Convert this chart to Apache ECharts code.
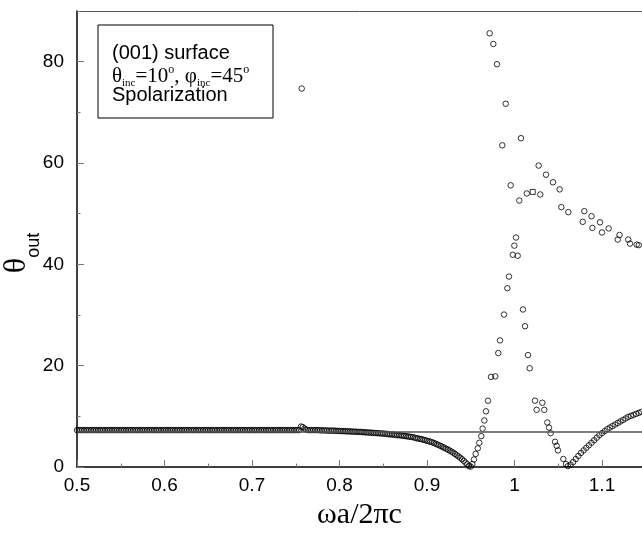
<!DOCTYPE html>
<html>
<head>
<meta charset="utf-8">
<script src="https://cdn.jsdelivr.net/npm/echarts@6/dist/echarts.min.js"></script>
<style>
  html, body { margin: 0; padding: 0; background: #fff; }
  #chart { width: 642px; height: 535px; }
</style>
</head>
<body>
<div id="chart"></div>
<script>
    'use strict';

    // flat band and its slow fall down to the first dip near 0.95
    var lowBranch = [
        [0.500,7.3],[0.502,7.3],[0.504,7.3],[0.506,7.3],[0.508,7.3],[0.510,7.3],[0.512,7.3],[0.514,7.3],
        [0.516,7.3],[0.518,7.3],[0.520,7.3],[0.522,7.3],[0.524,7.3],[0.526,7.3],[0.528,7.3],[0.530,7.3],
        [0.532,7.3],[0.534,7.3],[0.536,7.3],[0.538,7.3],[0.540,7.3],[0.542,7.3],[0.544,7.3],[0.546,7.3],
        [0.548,7.3],[0.550,7.3],[0.552,7.3],[0.554,7.3],[0.556,7.3],[0.558,7.3],[0.560,7.3],[0.562,7.3],
        [0.564,7.3],[0.566,7.3],[0.568,7.3],[0.570,7.3],[0.572,7.3],[0.574,7.3],[0.576,7.3],[0.578,7.3],
        [0.580,7.3],[0.582,7.3],[0.584,7.3],[0.586,7.3],[0.588,7.3],[0.590,7.3],[0.592,7.3],[0.594,7.3],
        [0.596,7.3],[0.598,7.3],[0.600,7.3],[0.602,7.3],[0.604,7.3],[0.606,7.3],[0.608,7.3],[0.610,7.3],
        [0.612,7.3],[0.614,7.3],[0.616,7.3],[0.618,7.3],[0.620,7.3],[0.622,7.3],[0.624,7.3],[0.626,7.3],
        [0.628,7.3],[0.630,7.3],[0.632,7.3],[0.634,7.3],[0.636,7.3],[0.638,7.3],[0.640,7.3],[0.642,7.3],
        [0.644,7.3],[0.646,7.3],[0.648,7.3],[0.650,7.3],[0.652,7.3],[0.654,7.3],[0.656,7.3],[0.658,7.3],
        [0.660,7.3],[0.662,7.3],[0.664,7.3],[0.666,7.3],[0.668,7.3],[0.670,7.3],[0.672,7.3],[0.674,7.3],
        [0.676,7.3],[0.678,7.3],[0.680,7.3],[0.682,7.3],[0.684,7.3],[0.686,7.3],[0.688,7.3],[0.690,7.3],
        [0.692,7.3],[0.694,7.3],[0.696,7.3],[0.698,7.3],[0.700,7.3],[0.702,7.3],[0.704,7.3],[0.706,7.3],
        [0.708,7.3],[0.710,7.3],[0.712,7.3],[0.714,7.3],[0.716,7.3],[0.718,7.3],[0.720,7.3],[0.722,7.3],
        [0.724,7.3],[0.726,7.3],[0.728,7.3],[0.730,7.3],[0.732,7.3],[0.734,7.3],[0.736,7.3],[0.738,7.3],
        [0.740,7.3],[0.742,7.3],[0.744,7.3],[0.746,7.3],[0.748,7.3],[0.750,7.3],[0.752,7.3],[0.754,7.3],
        [0.756,8.0],[0.758,7.9],[0.760,7.6],[0.762,7.4],[0.764,7.3],[0.766,7.3],[0.768,7.3],[0.770,7.3],
        [0.772,7.3],[0.774,7.3],[0.776,7.3],[0.778,7.25],[0.780,7.25],[0.782,7.25],[0.784,7.25],[0.786,7.2],
        [0.788,7.2],[0.790,7.2],[0.792,7.2],[0.794,7.2],[0.796,7.15],[0.798,7.15],[0.800,7.15],[0.802,7.1],
        [0.804,7.1],[0.806,7.1],[0.808,7.05],[0.810,7.05],[0.812,7.05],[0.814,7.0],[0.816,7.0],[0.818,7.0],
        [0.820,6.95],[0.822,6.95],[0.824,6.95],[0.826,6.9],[0.828,6.9],[0.830,6.85],[0.832,6.85],[0.834,6.8],
        [0.836,6.8],[0.838,6.75],[0.840,6.75],[0.842,6.7],[0.844,6.7],[0.846,6.65],[0.848,6.65],[0.850,6.6],
        [0.852,6.6],[0.854,6.55],[0.856,6.5],[0.858,6.45],[0.860,6.45],[0.862,6.4],[0.864,6.35],[0.866,6.3],
        [0.868,6.3],[0.870,6.25],[0.872,6.2],[0.874,6.15],[0.876,6.1],[0.878,6.05],[0.880,6.0],
        [0.882,5.95],[0.884,5.9],[0.886,5.8],[0.888,5.7],[0.890,5.65],[0.892,5.55],[0.894,5.5],[0.896,5.4],
        [0.898,5.3],[0.900,5.2],[0.902,5.1],[0.904,5.0],[0.906,4.9],[0.908,4.75],[0.910,4.6],[0.912,4.45],
        [0.914,4.3],[0.916,4.15],[0.918,3.95],[0.920,3.8],[0.922,3.6],[0.924,3.45],[0.926,3.25],[0.928,3.05],
        [0.930,2.85],[0.932,2.6],[0.934,2.35],[0.936,2.1],[0.938,1.85],[0.940,1.55],[0.942,1.25],[0.944,0.9],
        [0.946,0.55],[0.948,0.2],[0.950,0.1]
    ];

    // steep rise out of the first dip
    var dipRise = [
        [0.9518,0.6],[0.9537,1.5],[0.9556,2.6],[0.958,3.7],[0.9598,4.8],[0.962,6.1],[0.9636,7.6],
        [0.9655,9.2],[0.9674,11.0],[0.9697,13.1],[0.9731,17.8],[0.978,17.9],[0.9815,22.5],[0.9834,25.0],
        [0.988,30.1],[0.9918,35.3],[0.9937,37.6],[0.998,41.9],[0.9998,43.7],[1.0017,45.3],[1.0036,41.7]
    ];

    // scattered high points
    var upperBranch = [
        [0.7568,74.7],[0.9716,85.6],[0.9758,83.5],[0.980,79.5],[0.986,63.5],[0.990,71.7],[0.9956,55.6],
        [1.0055,52.6],[1.0074,64.9],[1.014,54.0],[1.0276,59.5],[1.0295,53.8],[1.036,57.7],[1.044,56.2],
        [1.0516,54.8],[1.0535,51.3],[1.0615,50.3],[1.078,48.4],[1.0798,50.5],[1.088,49.5],[1.089,47.2],
        [1.0977,48.3],[1.100,46.3],[1.1076,47.1],[1.118,44.9],[1.120,45.8],[1.130,44.9],[1.132,44.1],
        [1.1396,43.9],[1.142,43.8]
    ];

    // fall into the second dip
    var fallBranch = [
        [1.0097,31.1],[1.012,27.8],[1.0154,22.1],[1.0173,19.5],[1.0234,13.1],[1.0253,11.3],[1.0318,12.7],
        [1.034,11.3],[1.0375,8.8],[1.0394,7.8],[1.0413,6.7],[1.0463,5.0],[1.0482,4.2],[1.0497,3.3],
        [1.0558,1.6],[1.0589,0.6]
    ];

    // rise after the second dip
    var riseBranch = [
        [1.061,0.2],[1.064,0.5],[1.067,1.0],[1.070,1.6],[1.073,2.2],[1.076,2.8],[1.079,3.3],[1.082,3.8],
        [1.085,4.3],[1.088,4.8],[1.091,5.3],[1.094,5.8],[1.097,6.3],[1.100,6.7],[1.103,7.1],[1.106,7.5],
        [1.109,7.8],[1.112,8.1],[1.115,8.4],[1.118,8.7],[1.121,9.0],[1.124,9.3],[1.127,9.6],[1.130,9.9],
        [1.133,10.1],[1.136,10.3],[1.139,10.5],[1.142,10.7],[1.145,10.9]
    ];

    var squarePoint = [[1.0208,54.3]];
    var refLevel = 7.0;

    var xMin = 0.5, xMax = 1.1457;
    var yMin = 0, yMax = 90;

    var sans = '"Liberation Sans", Arial, sans-serif';
    var serif = '"Liberation Serif", "Times New Roman", serif';

    var dotStyle = { color: 'rgba(0,0,0,0)', borderColor: '#000', borderWidth: 1 };

    function dots(data) {
        return {
            type: 'scatter',
            data: data,
            symbol: 'circle',
            symbolSize: 5.5,
            itemStyle: dotStyle,
            silent: true
        };
    }

    var refSeries = dots(lowBranch);
    refSeries.markLine = {
        silent: true,
        symbol: 'none',
        label: { show: false },
        lineStyle: { color: '#555', width: 1.5, type: 'solid' },
        data: [ { yAxis: refLevel } ]
    };

    var option = {
        animation: false,
        backgroundColor: '#fff',
        grid: { left: 77, top: 11, right: 0, bottom: 55, containLabel: false },
        xAxis: [
            {
                type: 'value', position: 'bottom', min: xMin, max: xMax, interval: 0.1,
                axisLine: { lineStyle: { color: '#000', width: 1.5 } },
                axisTick: { inside: true, length: 7, lineStyle: { color: '#777' } },
                axisLabel: { color: '#000', fontFamily: sans, fontSize: 19, margin: 9, showMaxLabel: false },
                splitLine: { show: false },
                name: 'ωa/2πc', nameLocation: 'middle', nameGap: 21,
                nameTextStyle: { color: '#000', fontFamily: serif, fontSize: 30 }
            },
            {
                type: 'value', position: 'bottom', min: xMin, max: xMax, interval: 0.05,
                axisLine: { show: false },
                axisTick: { inside: true, length: 3.5, lineStyle: { color: '#777' } },
                axisLabel: { show: false },
                splitLine: { show: false }
            },
            {
                type: 'value', position: 'top', min: xMin, max: xMax,
                axisLine: { lineStyle: { color: '#555', width: 1 } },
                axisTick: { show: false },
                axisLabel: { show: false },
                splitLine: { show: false }
            }
        ],
        yAxis: [
            {
                type: 'value', position: 'left', min: yMin, max: yMax, interval: 20,
                axisLine: { show: true, lineStyle: { color: '#000', width: 1.5 } },
                axisTick: { show: true, inside: true, length: 7, lineStyle: { color: '#777' } },
                axisLabel: { color: '#000', fontFamily: sans, fontSize: 19, margin: 13, showMaxLabel: false },
                splitLine: { show: false }
            },
            {
                type: 'value', position: 'left', min: yMin, max: yMax, interval: 10,
                axisLine: { show: false },
                axisTick: { show: true, inside: true, length: 3.5, lineStyle: { color: '#777' } },
                axisLabel: { show: false },
                splitLine: { show: false }
            }
        ],
        graphic: [
            {
                type: 'text', x: 17, y: 253, rotation: Math.PI / 2,
                style: {
                    text: '{t|θ}{s|out}',
                    align: 'center',
                    verticalAlign: 'middle',
                    rich: {
                        t: { fontFamily: serif, fontSize: 32, fill: '#000', lineHeight: 52, verticalAlign: 'middle' },
                        s: { fontFamily: sans, fontSize: 18, fill: '#000', lineHeight: 52, verticalAlign: 'bottom' }
                    }
                }
            },
            {
                type: 'rect', shape: { x: 98, y: 25, width: 175, height: 93 },
                style: { fill: '#fff', stroke: '#000', lineWidth: 1 }
            },
            {
                type: 'text', x: 112, y: 53,
                style: { text: '(001) surface', font: '20px ' + sans, fill: '#000', verticalAlign: 'middle' }
            },
            {
                type: 'text', x: 112, y: 76,
                style: {
                    text: '{a|θ}{s|inc}{a|=10}{p|o}{a|, φ}{s|inc}{a|=45}{p|o}',
                    verticalAlign: 'middle',
                    rich: {
                        a: { fontFamily: serif, fontSize: 21, fill: '#000', lineHeight: 25, verticalAlign: 'middle' },
                        s: { fontFamily: serif, fontSize: 11, fill: '#000', lineHeight: 25, verticalAlign: 'bottom' },
                        p: { fontFamily: serif, fontSize: 12, fill: '#000', lineHeight: 25, verticalAlign: 'top' }
                    }
                }
            },
            {
                type: 'text', x: 112, y: 95,
                style: { text: 'Spolarization', font: '20px ' + sans, fill: '#000', verticalAlign: 'middle' }
            }
        ],
        series: [
            refSeries,
            dots(dipRise),
            dots(upperBranch),
            dots(fallBranch),
            dots(riseBranch),
            {
                type: 'scatter',
                data: squarePoint,
                symbol: 'rect',
                symbolSize: 5,
                itemStyle: dotStyle,
                silent: true
            }
        ]
    };

    var chart = echarts.init(document.getElementById('chart'), null, { renderer: 'canvas' });
    chart.setOption(option);
</script>
</body>
</html>
